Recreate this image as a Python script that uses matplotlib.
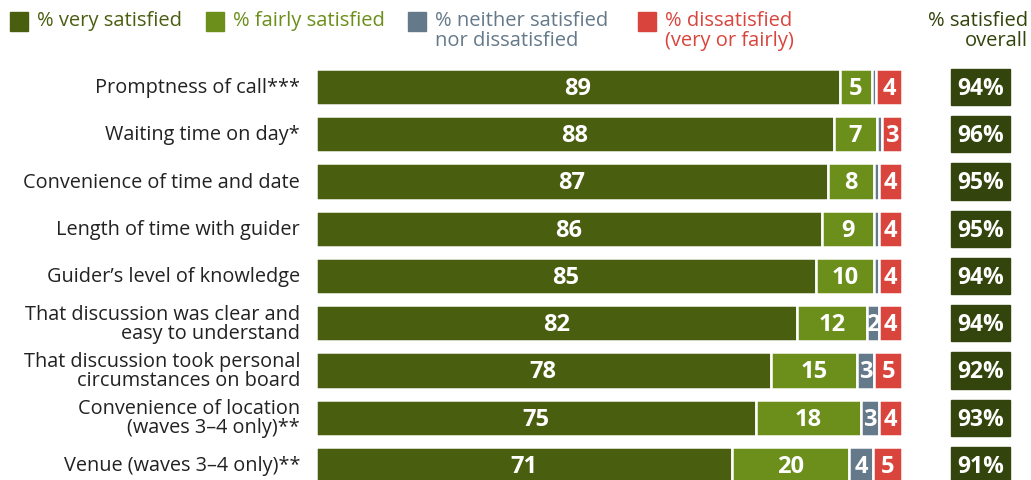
import numpy as np
import matplotlib.pyplot as plt
from matplotlib.patches import Rectangle

plt.rcParams['font.family'] = ['Open Sans', 'DejaVu Sans']

categories = [
    "Promptness of call***",
    "Waiting time on day*",
    "Convenience of time and date",
    "Length of time with guider",
    "Guider\u2019s level of knowledge",
    "That discussion was clear and\neasy to understand",
    "That discussion took personal\ncircumstances on board",
    "Convenience of location\n(waves 3\u20134 only)**",
    "Venue (waves 3\u20134 only)**",
]
very_satisfied = [89.4, 88.4, 87.3, 86.3, 85.3, 82, 77.6, 75, 71]
fairly_satisfied = [5.4, 7.3, 7.9, 8.9, 9.9, 12, 14.8, 18, 20]
neither = [0.8, 0.9, 0.8, 0.8, 0.8, 2, 2.9, 3, 4]
dissatisfied = [4.4, 3.4, 4.0, 4.0, 4.0, 4, 4.7, 4, 5]
satisfied_overall = [94, 96, 95, 95, 94, 94, 92, 93, 91]

series = [very_satisfied, fairly_satisfied, neither, dissatisfied]
colors = ["#4a5e10", "#6b8f1a", "#64798a", "#d9453d"]
legend_labels = ["% very satisfied", "% fairly satisfied",
                 "% neither satisfied\nnor dissatisfied",
                 "% dissatisfied\n(very or fairly)"]
overall_color = "#33440c"

W, H = 1031, 481
fig = plt.figure(figsize=(W / 100, H / 100), dpi=100)
ax = fig.add_axes([316 / W, 0, 586 / W, 1])

y = np.arange(len(categories))
left = np.zeros(len(categories))
for vals, col in zip(series, colors):
    vals = np.array(vals, dtype=float)
    ax.barh(y, vals, left=left, height=0.77, color=col,
            edgecolor="white", linewidth=1.8)
    for yi, l, v in zip(y, left, vals):
        if v >= 1.5:
            ax.text(l + v / 2, yi + 0.02, f"{round(v)}", ha="center",
                    va="center", color="white", fontsize=17,
                    fontweight="bold")
    left += vals

# overall satisfaction boxes to the right
for yi, v in zip(y, satisfied_overall):
    ax.add_patch(Rectangle((108.3, yi - 0.385), 10.1, 0.77,
                           color=overall_color, clip_on=False))
    ax.text(113.35, yi + 0.02, f"{v}%", ha="center", va="center",
            color="white", fontsize=16.5, fontweight="bold", clip_on=False)

for yi, cat in zip(y, categories):
    ax.text(-2.7, yi, cat, ha="right", va="center", fontsize=14.3,
            color="#222222", linespacing=0.95)

ax.set_xlim(0, 100)
ax.set_ylim((481 - 88) / 47.25, -88 / 47.25)
ax.axis("off")

# legend across the top
legend_x = [10, 206, 408, 638]
for lx, lab, col in zip(legend_x, legend_labels, colors):
    fig.patches.append(Rectangle((lx / W, 1 - 32 / H), 18 / W, 19 / H,
                                 transform=fig.transFigure, color=col))
    fig.text((lx + 27) / W, 1 - 11 / H, lab, ha="left", va="top",
             fontsize=14.5, color=col, linespacing=0.97)
fig.text(1028 / W, 1 - 11 / H, "% satisfied\noverall", ha="right", va="top",
         fontsize=14.5, color=overall_color, linespacing=0.97,
         multialignment="right")

fig.savefig("out.png", dpi=100)
